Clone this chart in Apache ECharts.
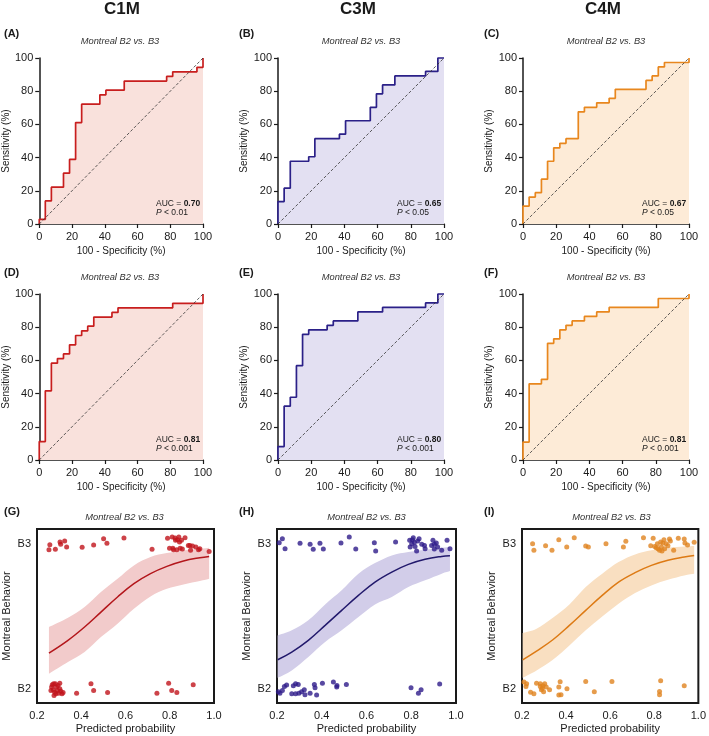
<!DOCTYPE html>
<html><head><meta charset="utf-8">
<script src="https://cdn.jsdelivr.net/npm/echarts@6/dist/echarts.min.js"></script>
<style>html,body{margin:0;padding:0;background:#fff}#c{width:709px;height:736px}</style>
</head><body><div id="c"></div><script>
// ---------- DATA ----------
const columnTitles = ['C1M', 'C3M', 'C4M'];
const panelLetters = ['(A)', '(B)', '(C)', '(D)', '(E)', '(F)', '(G)', '(H)', '(I)'];
const subtitle = 'Montreal B2 vs. B3';
const rocTicks = [0, 20, 40, 60, 80, 100];
const probTicks = [0.2, 0.4, 0.6, 0.8, 1.0];
const behaviorLabels = ['B2', 'B3'];

// ROC curves: x = 100 - specificity, y = sensitivity (right end of each horizontal step)
const rocA_x = [0, 3.7, 7.4, 14.8, 18.5, 22.2, 25.9, 37.0, 40.7, 51.9, 77.8, 81.5, 96.3, 100, 100];
const rocA_y = [0, 2.8, 13.9, 22.2, 30.6, 38.9, 61.1, 72.2, 77.8, 80.6, 86.1, 88.9, 91.7, 94.4, 100];
const rocB_x = [0, 3.7, 7.4, 18.5, 22.2, 37.0, 40.7, 55.6, 59.3, 63.0, 70.4, 88.9, 96.3, 100];
const rocB_y = [0, 13.5, 21.6, 37.8, 40.5, 51.4, 54.1, 62.2, 70.3, 78.4, 83.8, 89.2, 91.9, 100];
const rocC_x = [0, 3.7, 7.4, 11.1, 14.8, 18.5, 22.2, 25.9, 33.3, 37.0, 44.4, 51.9, 55.6, 74.1, 77.8, 81.5, 85.2, 100, 100];
const rocC_y = [0, 10.8, 16.2, 18.9, 27.0, 37.8, 45.9, 48.6, 51.4, 67.6, 70.3, 73.0, 75.7, 81.1, 86.5, 89.2, 94.6, 97.3, 100];
const rocD_x = [0, 3.7, 7.4, 11.1, 14.8, 18.5, 22.2, 25.9, 29.6, 33.3, 44.4, 48.1, 81.5, 100, 100];
const rocD_y = [0, 11.1, 41.7, 58.3, 61.1, 63.9, 69.4, 75.0, 77.8, 80.6, 86.1, 88.9, 91.7, 94.4, 100];
const rocE_x = [0, 3.7, 7.4, 11.1, 14.8, 18.5, 29.6, 33.3, 48.1, 63.0, 88.9, 96.3, 100];
const rocE_y = [0, 8.1, 32.4, 37.8, 56.8, 75.7, 78.4, 81.1, 83.8, 89.2, 91.9, 94.6, 100];
const rocF_x = [0, 3.7, 11.1, 14.8, 18.5, 22.2, 25.9, 29.6, 37.0, 44.4, 51.9, 81.5, 100, 100];
const rocF_y = [0, 10.8, 45.9, 48.6, 70.3, 73.0, 78.4, 81.1, 83.8, 86.5, 89.2, 91.9, 97.3, 100];
const aucValues = ['0.70', '0.65', '0.67', '0.81', '0.80', '0.81'];
const pValues = ['< 0.01', '< 0.05', '< 0.05', '< 0.001', '< 0.001', '< 0.001'];

// Logistic fits: [predicted probability, jittered behaviour (0 = B2, 1 = B3)]
const G_b3 = [[0.258,0.992],[0.254,0.957],[0.283,0.960],[0.307,0.994],[0.304,1.010],[0.325,1.017],[0.334,0.976],[0.404,0.974],[0.456,0.990],[0.501,1.033],[0.516,1.001],[0.593,1.038],[0.720,0.960],[0.790,1.036],[0.799,0.967],[0.811,1.045],[0.817,0.957],[0.824,1.038],[0.832,0.957],[0.835,1.026],[0.841,1.045],[0.847,0.967],[0.853,1.022],[0.857,0.962],[0.869,1.040],[0.891,0.987],[0.894,0.953],[0.903,0.983],[0.918,0.976],[0.930,0.957],[0.936,0.964],[0.978,0.944],[0.814,0.967],[0.826,1.022],[0.844,1.010],[0.884,0.987]];
const G_b2 = [[0.269,0.026],[0.283,0.033],[0.303,0.037],[0.263,-0.013],[0.273,-0.009],[0.280,-0.025],[0.277,-0.048],[0.288,0.010],[0.292,-0.013],[0.298,-0.032],[0.307,-0.018],[0.313,-0.036],[0.318,-0.027],[0.295,0.021],[0.379,-0.032],[0.444,0.033],[0.456,-0.013],[0.519,-0.027],[0.742,-0.032],[0.795,0.037],[0.809,-0.013],[0.832,-0.027],[0.906,0.026],[0.266,0.010],[0.285,-0.036],[0.303,-0.002],[0.275,0.033]];
const G_fitX = [0.254, 0.340, 0.415, 0.489, 0.564, 0.638, 0.713, 0.787, 0.862, 0.936, 0.978];
const G_fitY = [0.244, 0.332, 0.424, 0.527, 0.631, 0.723, 0.792, 0.842, 0.879, 0.902, 0.911];
const G_upper = [0.424, 0.488, 0.562, 0.665, 0.757, 0.849, 0.907, 0.934, 0.952, 0.964, 0.971];
const G_lower = [0.102, 0.182, 0.251, 0.355, 0.447, 0.550, 0.635, 0.688, 0.718, 0.741, 0.757];

const H_b3 = [[0.210,1.006],[0.224,1.033],[0.236,0.964],[0.303,1.001],[0.348,0.994],[0.362,0.960],[0.392,1.001],[0.407,0.962],[0.486,1.003],[0.523,1.045],[0.552,0.962],[0.635,1.006],[0.641,0.948],[0.730,1.010],[0.793,1.022],[0.802,0.999],[0.809,1.040],[0.817,0.980],[0.824,0.948],[0.829,1.017],[0.835,1.033],[0.795,0.976],[0.859,0.987],[0.862,0.964],[0.891,0.987],[0.897,1.022],[0.903,0.962],[0.912,1.003],[0.918,0.976],[0.936,0.953],[0.960,1.022],[0.973,0.964],[0.814,1.008],[0.847,0.994],[0.805,1.026],[0.903,0.994]];
const H_b2 = [[0.206,-0.022],[0.224,-0.013],[0.233,0.014],[0.243,0.024],[0.266,-0.036],[0.273,0.019],[0.283,0.033],[0.295,0.028],[0.298,-0.032],[0.310,-0.022],[0.322,-0.009],[0.325,-0.043],[0.348,-0.032],[0.367,0.028],[0.370,0.005],[0.377,-0.045],[0.403,0.037],[0.452,0.044],[0.467,0.010],[0.468,0.021],[0.510,0.028],[0.799,0.005],[0.832,-0.032],[0.844,-0.009],[0.927,0.031],[0.213,-0.032],[0.283,-0.036]];
const H_fitX = [0.203, 0.266, 0.340, 0.415, 0.489, 0.564, 0.638, 0.713, 0.787, 0.862, 0.936, 0.973];
const H_fitY = [0.198, 0.251, 0.332, 0.435, 0.539, 0.642, 0.734, 0.803, 0.856, 0.891, 0.911, 0.916];
const H_upper = [0.366, 0.401, 0.470, 0.580, 0.677, 0.792, 0.865, 0.918, 0.941, 0.957, 0.971, 0.976];
const H_lower = [0.074, 0.125, 0.217, 0.320, 0.401, 0.493, 0.580, 0.631, 0.700, 0.746, 0.792, 0.810];

const I_b3 = [[0.248,0.999],[0.254,0.953],[0.307,0.985],[0.336,0.953],[0.367,1.026],[0.403,0.976],[0.437,1.040],[0.489,0.983],[0.501,0.976],[0.581,0.999],[0.660,0.976],[0.671,1.015],[0.751,1.040],[0.784,0.985],[0.795,1.036],[0.802,0.980],[0.814,0.999],[0.817,0.964],[0.824,0.953],[0.832,0.976],[0.839,1.003],[0.844,1.026],[0.847,0.964],[0.854,0.999],[0.862,0.985],[0.869,1.031],[0.873,1.017],[0.888,0.953],[0.909,1.036],[0.936,1.031],[0.939,1.003],[0.951,0.990],[0.981,1.008],[0.829,1.010],[0.809,0.971],[0.835,0.948]];
const I_b2 = [[0.209,0.044],[0.221,0.033],[0.218,0.014],[0.239,-0.025],[0.254,-0.036],[0.266,0.037],[0.283,0.014],[0.288,-0.009],[0.295,0.019],[0.298,-0.022],[0.303,0.033],[0.310,0.010],[0.325,-0.009],[0.367,0.010],[0.373,0.047],[0.367,-0.045],[0.377,-0.043],[0.404,-0.002],[0.489,0.049],[0.528,-0.022],[0.608,0.049],[0.829,0.053],[0.824,-0.020],[0.824,-0.043],[0.936,0.019],[0.292,0.001],[0.283,0.033]];
const I_fitX = [0.203, 0.266, 0.340, 0.415, 0.489, 0.564, 0.638, 0.713, 0.787, 0.862, 0.936, 0.981];
const I_fitY = [0.198, 0.258, 0.336, 0.435, 0.539, 0.642, 0.734, 0.799, 0.849, 0.884, 0.907, 0.918];
const I_upper = [0.382, 0.412, 0.488, 0.580, 0.700, 0.792, 0.872, 0.925, 0.953, 0.971, 0.980, 0.983];
const I_lower = [0.074, 0.125, 0.198, 0.297, 0.401, 0.497, 0.585, 0.658, 0.711, 0.750, 0.780, 0.792];

// ---------- STYLE / LAYOUT ----------
const FONT = "'Liberation Sans', Arial, Helvetica, sans-serif";
const INK = '#1a1a1a';
const lineColors = ['#c81e1e', '#2b2088', '#e8871e'];
const rocFills = ['#f9e1dc', '#e3e0f2', '#fdebd7'];
const bandColors = ['#f2cbcb', '#d2cde9', '#f9dfc1'];
const curveColors = ['#b3161b', '#22196c', '#dd7a14'];
const dotColors = ['#c0141c', '#2e1b8a', '#e0831f'];

const rocLeft = [37, 278, 523], rocTop = [58, 294], rocW = 166, rocH = 166;
const logLeft = [35, 277, 522], logTop = 529, logW = 179, logH = 174;
const titleX = [122, 358, 603];
const letterX = [4, 239, 484];
const letterY = [34, 273, 512];
const subY = [41, 277, 517];

const zip = (a, b) => a.map((v, i) => [v, b[i]]);
const rocSets = [[rocA_x, rocA_y], [rocB_x, rocB_y], [rocC_x, rocC_y], [rocD_x, rocD_y], [rocE_x, rocE_y], [rocF_x, rocF_y]];
const logSets = [
  {b3: G_b3, b2: G_b2, fx: G_fitX, fy: G_fitY, up: G_upper, lo: G_lower},
  {b3: H_b3, b2: H_b2, fx: H_fitX, fy: H_fitY, up: H_upper, lo: H_lower},
  {b3: I_b3, b2: I_b2, fx: I_fitX, fy: I_fitY, up: I_upper, lo: I_lower}
];

// smooth curve (Catmull-Rom as cubic Bezier) through pixel points, path continuation
function smoothSegs(pts) {
  let d = '';
  const t = 1 / 6;
  for (let i = 0; i < pts.length - 1; i++) {
    const p0 = pts[i - 1] || pts[i], p1 = pts[i], p2 = pts[i + 1], p3 = pts[i + 2] || pts[i + 1];
    const c1 = [p1[0] + (p2[0] - p0[0]) * t, p1[1] + (p2[1] - p0[1]) * t];
    const c2 = [p2[0] - (p3[0] - p1[0]) * t, p2[1] - (p3[1] - p1[1]) * t];
    d += ' C' + c1[0] + ',' + c1[1] + ' ' + c2[0] + ',' + c2[1] + ' ' + p2[0] + ',' + p2[1];
  }
  return d;
}

const grid = [], xAxis = [], yAxis = [], series = [], graphic = [];
const axLine = {lineStyle: {color: INK, width: 1.5}};

// ROC panels
rocSets.forEach((set, i) => {
  const col = i % 3, row = Math.floor(i / 3);
  grid.push({left: rocLeft[col], top: rocTop[row], width: rocW, height: rocH, containLabel: false});
  xAxis.push({type: 'value', gridIndex: i, min: rocTicks[0], max: rocTicks[rocTicks.length - 1], interval: rocTicks[1] - rocTicks[0],
    axisLine: axLine, axisTick: {length: 4, lineStyle: {color: INK, width: 1.2}},
    axisLabel: {fontSize: 11, color: INK, margin: 7, fontFamily: FONT}, splitLine: {show: false},
    name: '100 - Specificity (%)', nameLocation: 'middle', nameGap: 22,
    nameTextStyle: {fontSize: 10, color: INK, fontFamily: FONT}});
  yAxis.push({type: 'value', gridIndex: i, min: rocTicks[0], max: rocTicks[rocTicks.length - 1], interval: rocTicks[1] - rocTicks[0],
    axisLine: axLine, axisTick: {length: 4, lineStyle: {color: INK, width: 1.2}},
    axisLabel: {fontSize: 11, color: INK, margin: 6, fontFamily: FONT}, splitLine: {show: false},
    name: 'Sensitivity (%)', nameLocation: 'middle', nameGap: 25,
    nameTextStyle: {fontSize: 10, color: INK, fontFamily: FONT}});
  series.push({type: 'line', xAxisIndex: i, yAxisIndex: i, data: zip(set[0], set[1]), step: 'start',
    symbol: 'none', clip: false, z: 2,
    lineStyle: {color: lineColors[col], width: 1.7}, areaStyle: {color: rocFills[col], opacity: 1}});
  series.push({type: 'line', xAxisIndex: i, yAxisIndex: i, data: [[0, 0], [100, 100]], symbol: 'none', z: 3,
    lineStyle: {color: '#333', width: 0.8, type: [3, 2]}});
  const gx = rocLeft[col] + rocW, gy = rocTop[row] + rocH;
  graphic.push({type: 'text', x: gx - 47, y: gy - 25, z: 10, style: {
    text: '{n|AUC = }{b|' + aucValues[i] + '}\n{i|P}{n| ' + pValues[i] + '}',
    fill: INK, rich: {
      n: {fontSize: 8.5, fontFamily: FONT, fill: INK, lineHeight: 9},
      b: {fontSize: 8.5, fontFamily: FONT, fontWeight: 'bold', fill: INK, lineHeight: 9},
      i: {fontSize: 8.5, fontFamily: FONT, fontStyle: 'italic', fill: INK, lineHeight: 9}
    }}});
});

// Logistic panels
logSets.forEach((s, col) => {
  const gi = 6 + col;
  grid.push({left: logLeft[col], top: logTop, width: logW, height: logH, show: true,
    borderColor: INK, borderWidth: 2, backgroundColor: 'transparent'});
  xAxis.push({type: 'value', gridIndex: gi, min: probTicks[0], max: probTicks[probTicks.length - 1], interval: 0.2,
    axisLine: {show: false}, axisTick: {show: false}, splitLine: {show: false},
    axisLabel: {fontSize: 11, color: INK, margin: 7, fontFamily: FONT, formatter: v => v.toFixed(1)},
    name: 'Predicted probability', nameLocation: 'middle', nameGap: 20,
    nameTextStyle: {fontSize: 11, color: INK, fontFamily: FONT}});
  yAxis.push({type: 'value', gridIndex: gi, min: -0.1, max: 1.1, interval: 0.1,
    axisLine: {show: false}, axisTick: {show: false}, splitLine: {show: false},
    axisLabel: {fontSize: 11, color: INK, margin: 6, fontFamily: FONT,
      formatter: v => Math.abs(v) < 1e-6 ? behaviorLabels[0] : (Math.abs(v - 1) < 1e-6 ? behaviorLabels[1] : '')},
    name: 'Montreal Behavior', nameLocation: 'middle', nameGap: 25,
    nameTextStyle: {fontSize: 11, color: INK, fontFamily: FONT}});
  // confidence band as a filled smooth path between upper and lower bounds
  series.push({type: 'custom', xAxisIndex: gi, yAxisIndex: gi, data: [[s.fx[0], s.lo[0]]], clip: false, z: 1, silent: true,
    renderItem: (params, api) => {
      const up = s.fx.map((x, k) => api.coord([x, s.up[k]]));
      const lo = s.fx.map((x, k) => api.coord([x, s.lo[k]])).reverse();
      const d = 'M' + up[0][0] + ',' + up[0][1] + smoothSegs(up) + ' L' + lo[0][0] + ',' + lo[0][1] + smoothSegs(lo) + ' Z';
      return {type: 'path', shape: {pathData: d}, style: {fill: bandColors[col], stroke: null}};
    }});
  series.push({type: 'line', xAxisIndex: gi, yAxisIndex: gi, data: zip(s.fx, s.fy), symbol: 'none', smooth: 0.4,
    lineStyle: {color: curveColors[col], width: 1.5}, z: 3});
  series.push({type: 'scatter', xAxisIndex: gi, yAxisIndex: gi, data: s.b3, symbolSize: 5,
    itemStyle: {color: dotColors[col]}, z: 4, clip: false});
  series.push({type: 'scatter', xAxisIndex: gi, yAxisIndex: gi, data: s.b2, symbolSize: 5,
    itemStyle: {color: dotColors[col]}, z: 4, clip: false});
});

// Titles, letters, subtitles
columnTitles.forEach((t, col) => {
  graphic.push({type: 'text', x: titleX[col], y: 9, style: {text: t, fontSize: 17, fontWeight: 'bold', fontFamily: FONT, fill: INK,
    align: 'center', verticalAlign: 'middle', textAlign: 'center', textVerticalAlign: 'middle'}});
});
panelLetters.forEach((t, i) => {
  const col = i % 3, row = Math.floor(i / 3);
  graphic.push({type: 'text', x: letterX[col], y: letterY[row], style: {text: t, fontSize: 11, fontWeight: 'bold', fontFamily: FONT, fill: INK,
    align: 'left', verticalAlign: 'middle', textAlign: 'left', textVerticalAlign: 'middle'}});
  const cx = row < 2 ? rocLeft[col] + rocW / 2 : logLeft[col] + logW / 2;
  graphic.push({type: 'text', x: cx, y: subY[row], style: {text: subtitle, fontSize: 9.3, fontStyle: 'italic', fontFamily: FONT, fill: '#333',
    align: 'center', verticalAlign: 'middle', textAlign: 'center', textVerticalAlign: 'middle'}});
});

const chart = echarts.init(document.getElementById('c'), null, {renderer: 'canvas'});
chart.setOption({animation: false, backgroundColor: '#fff', textStyle: {fontFamily: FONT},
  grid, xAxis, yAxis, series, graphic});
</script></body></html>
